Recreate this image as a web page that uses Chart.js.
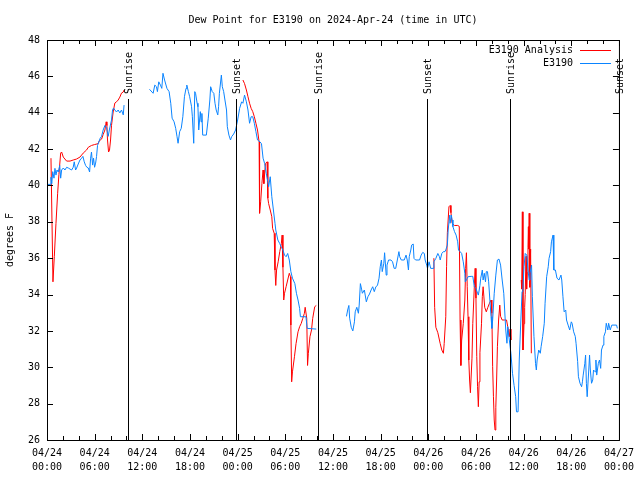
<!DOCTYPE html>
<html>
<head>
<meta charset="utf-8">
<script src="https://cdn.jsdelivr.net/npm/chart.js@4"></script>
<style>
  html, body { margin: 0; padding: 0; background: #fff; }
  canvas { display: block; }
</style>
</head>
<body>
<canvas id="dewChart" width="640" height="480"></canvas>
<script>
// hours since 04/24 00:00 UTC
const analysisHours = [
    0.5, 0.75, 0.92, 1.13, 1.34, 1.5, 1.72, 1.84, 2.05, 2.47, 2.9, 3.3, 3.7, 4.15, 4.56, 4.98,
    5.2, 5.6, 6.0, 6.45, 6.57, 6.87, 7.07, 7.29, 7.45, 7.54, 7.62, 7.75, 7.87, 8.0, 8.12, 8.33,
    8.54, 8.75, 8.96, 9.17, 9.38, 9.6, 9.7,
    11,
    24.66, 24.87, 25.1, 25.3, 25.5, 25.7, 25.9, 26.1, 26.3, 26.5, 26.7, 26.76, 26.9, 27.05, 27.2,
    27.3, 27.5, 27.7, 27.8, 27.9, 28.1, 28.3, 28.4, 28.6, 28.7, 28.8, 28.9, 29.1, 29.3, 29.5,
    29.6, 29.7, 29.8, 29.9, 30.1, 30.3, 30.5, 30.65, 30.7, 30.8, 30.9, 31.15, 31.35, 31.6, 31.8,
    32.0, 32.2, 32.4, 32.5, 32.7, 32.8, 32.9, 33.1, 33.3, 33.45, 33.7, 33.9,
    40,
    48.7, 48.8, 48.95, 49.2, 49.5, 49.7, 49.9, 50.0, 50.2, 50.3, 50.4, 50.6, 50.75, 50.85, 51.0,
    51.3, 51.7, 51.9, 52.0, 52.1, 52.2, 52.4, 52.6, 52.7, 52.8, 52.9, 53.0, 53.1, 53.2, 53.3,
    53.5, 53.6, 53.8, 53.9, 54.0, 54.1, 54.2, 54.3, 54.4, 54.5, 54.7, 54.8, 54.9, 55.1, 55.3,
    55.5, 55.7, 55.9, 56.0, 56.1, 56.2, 56.3, 56.4, 56.5, 56.6, 56.7, 56.85, 57.0, 57.1, 57.3,
    57.6, 57.85, 58.0, 58.2, 58.3, 58.4,
    59,
    59.7, 59.76, 59.84, 59.92, 59.98, 60.05, 60.13, 60.2, 60.3, 60.38, 60.46, 60.55, 60.6, 60.65,
    60.7, 60.76, 60.8, 60.88, 60.97
];
const analysisValues = [
    41.5, 34.7, 36.08, 37.92, 39.57, 40.6, 41.78, 41.84, 41.56, 41.34, 41.34, 41.4, 41.45, 41.56, 41.78, 41.95,
    42.1, 42.2, 42.25, 42.3, 42.45, 42.55, 42.8, 43.05, 43.5, 43.3, 42.5, 41.84, 41.95, 42.5, 43.3, 44.04,
    44.53, 44.6, 44.7, 44.86, 45.08, 45.14, 45.25,
    null,
    45.8, 45.6, 45.25, 44.88, 44.52, 44.24, 44.06, 43.78, 43.42, 43.05, 42.4, 38.47, 39.1, 40.1, 40.85,
    40.1, 41.2, 41.3, 39.3, 39.0, 38.65, 38.28, 37.64, 37.37, 35.35, 34.5, 35.35, 35.8, 36.36, 36.8,
    37.27, 35.5, 33.7, 34.07, 34.43, 34.8, 35.17, 34.98, 32.32, 29.2, 29.75, 30.58, 31.3, 31.95, 32.23,
    32.41, 32.69, 32.97, 33.3, 32.69, 30.1, 30.77, 31.68, 32.05, 32.69, 33.33, 33.4,
    null,
    36.0, 33.3, 32.2, 31.9, 31.3, 30.95, 30.77, 31.3, 32.78, 35.53, 37.4, 38.83, 38.9, 38.5, 37.92,
    37.8, 37.8, 37.75, 32.6, 30.1, 31.5, 32.4, 33.7, 35.44, 36.3, 34.43, 32.78, 30.4, 29.3, 28.6,
    30.5, 32.4, 34.5, 35.44, 33.8, 30.6, 28.93, 27.83, 29.2, 30.8, 32.42, 33.88, 34.43, 33.3, 33.05,
    33.3, 33.52, 33.7, 32.97, 30.03, 28.38, 27.1, 26.55, 27.8, 29.3, 31.13, 32.6, 33.42, 32.8, 32.6,
    32.6, 32.6, 32.23, 31.68, 32.1, 31.5,
    null,
    34.8, 34.3, 38.55, 30.95, 31.5, 32.4, 33.3, 34.0, 36.1, 34.3, 35.2, 36.6, 37.73, 36.5,
    38.47, 36.6, 34.4, 36.5, 30.77
];

const stationHours = [
    0.0, 0.4, 0.5, 0.6, 0.72, 0.88, 1.0, 1.13, 1.26, 1.42, 1.6, 1.72, 1.84, 2.05, 2.26, 2.47,
    2.68, 2.9, 3.1, 3.3, 3.43, 3.6, 3.73, 3.93, 4.15, 4.36, 4.52, 4.69, 4.86, 5.02, 5.2, 5.36,
    5.49, 5.6, 5.74, 5.86, 5.99, 6.12, 6.24, 6.36, 6.53, 6.7, 6.87, 7.07, 7.29, 7.5, 7.7, 7.87,
    8.12, 8.25, 8.38, 8.54, 8.75, 8.96, 9.17, 9.38, 9.6, 9.7,
    11,
    12.9, 13.36, 13.57, 13.78, 13.9, 14.07, 14.28, 14.45, 14.6, 14.8, 15.1, 15.37, 15.58, 15.75,
    16.0, 16.2, 16.37, 16.5, 16.7, 16.9, 17.1, 17.3, 17.5, 17.6, 17.8, 17.96, 18.2, 18.3, 18.47,
    18.6, 18.7, 18.9, 19.0, 19.1, 19.3, 19.4, 19.5, 19.6, 20.06, 20.3, 20.5, 20.6, 20.8, 21.0,
    21.15, 21.3, 21.5, 21.6, 21.7, 21.95, 22.07, 22.24, 22.4, 22.6, 22.7, 22.9, 23.1, 23.24,
    23.5, 23.74, 24.0, 24.25, 24.5, 24.66, 24.87, 25.1, 25.3, 25.5, 25.7, 25.9, 26.1, 26.3, 26.5,
    26.8, 27.0, 27.2, 27.4, 27.6, 27.8, 27.9, 28.1, 28.3, 28.5, 28.7, 28.8, 29.06, 29.3, 29.5,
    29.7, 29.9, 30.1, 30.3, 30.5, 30.7, 30.9, 31.2, 31.4, 31.6, 31.8, 31.9, 32.6, 32.75, 33.9,
    35,
    37.7, 37.85, 38.0, 38.1, 38.3, 38.5, 38.7, 38.8, 39.0, 39.2, 39.3, 39.45, 39.6, 39.7, 39.95,
    40.2, 40.4, 40.6, 40.8, 41.0, 41.2, 41.4, 41.6, 41.8, 41.95, 42.1, 42.2, 42.4, 42.5, 42.7,
    42.8, 43.0, 43.3, 43.5, 43.7, 43.9, 44.1, 44.3, 44.4, 44.6, 44.97, 45.2, 45.35, 45.5, 45.6,
    45.8, 45.9, 46.1, 46.2, 46.4, 46.9, 47.1, 47.3, 47.5, 47.6, 47.8, 47.9, 48.1, 48.3, 48.6,
    48.7, 48.95, 49.2, 49.4, 49.5, 49.7, 49.9, 50.1, 50.2, 50.4, 50.5, 50.7, 50.75, 50.9, 51.0,
    51.1, 51.3, 51.5, 51.7, 51.8, 52.0, 52.2, 52.4, 52.6, 52.65, 52.8, 53.0, 53.4, 53.6, 53.8,
    54.0, 54.2, 54.3, 54.5, 54.6, 54.8, 54.9, 55.05, 55.2, 55.3, 55.45, 55.6, 55.75, 55.9, 56.0,
    56.1, 56.3, 56.5, 56.7, 56.9, 57.1, 57.3, 57.5, 57.75, 57.9, 58.0, 58.2, 58.4, 58.6, 58.8,
    59.0, 59.1, 59.3, 59.45, 59.6, 59.8, 59.9, 60.05, 60.2, 60.4, 60.55, 60.7, 60.8, 61.0, 61.1,
    61.3, 61.5, 61.6, 61.7, 61.9, 62.1, 62.2, 62.4, 62.6, 62.7, 62.9, 63.1, 63.2, 63.4, 63.5,
    63.7, 63.8, 64.0, 64.2, 64.45, 64.7, 64.8, 64.95, 65.1, 65.3, 65.4, 65.6, 65.8, 66.0, 66.1,
    66.3, 66.5, 66.6, 66.8, 66.9, 67.1, 67.3, 67.4, 67.5, 67.7, 67.8, 67.9, 68.0, 68.2, 68.3,
    68.4, 68.55, 68.7, 68.8, 69.0, 69.1, 69.2, 69.4, 69.55, 69.7, 69.8, 70.0, 70.1, 70.3, 70.4,
    70.6, 70.7, 70.9, 71.1, 71.7, 71.8
];
const stationValues = [
    40.06, 40.06, 40.45, 40.1, 40.76, 40.4, 40.94, 40.57, 40.85, 40.74, 41.1, 40.4, 40.85, 40.96, 40.85, 41.0,
    40.96, 40.9, 40.85, 41.0, 41.3, 40.85, 40.96, 41.18, 41.4, 41.5, 41.6, 41.3, 41.1, 41.0, 40.96, 40.74,
    41.5, 41.84, 41.12, 41.5, 41.0, 41.23, 41.6, 42.2, 42.4, 42.6, 42.7, 43.05, 43.3, 43.2, 42.7, 43.1,
    43.6, 44.15, 44.26, 44.15, 44.04, 44.15, 43.99, 44.15, 43.88, 44.42,
    null,
    45.29, 45.07, 45.52, 45.43, 45.16, 45.7, 45.52, 45.34, 46.17, 45.8, 45.34, 45.16, 44.52, 43.7,
    43.5, 43.14, 42.68, 42.32, 42.96, 43.14, 43.78, 44.88, 45.34, 45.52, 45.16, 44.88, 44.33, 43.78, 42.32,
    45.16, 45.07, 44.52, 44.33, 43.05, 44.06, 43.5, 43.96, 42.77, 42.77, 43.7, 44.7, 45.43, 45.16, 45.07,
    44.52, 44.15, 43.88, 44.33, 45.07, 46.07, 45.43, 45.16, 44.7, 44.15, 43.23, 42.77, 42.5, 42.68,
    42.83, 43.05, 43.6, 44.24, 44.6, 44.52, 44.97, 44.6, 44.15, 43.42, 43.78, 43.78, 43.42, 42.96, 42.5,
    42.4, 42.3, 41.5, 41.2, 40.67, 40.2, 39.93, 40.48, 39.38, 38.65, 37.92, 37.55, 37.0, 36.8, 36.6,
    36.45, 36.17, 36.08, 36.26, 35.9, 35.26, 34.9, 34.6, 34.07, 33.7, 33.24, 32.78, 32.78, 32.14, 32.1,
    null,
    32.8, 33.15, 33.4, 32.7, 32.2, 32.0, 32.5, 33.05, 33.3, 32.97, 33.42, 34.6, 34.3, 34.07, 34.25,
    33.6, 33.88, 34.03, 34.25, 34.43, 34.16, 34.43, 34.5, 34.9, 35.53, 35.9, 35.26, 35.72, 36.3, 35.07,
    35.62, 35.9, 35.9, 35.8, 35.44, 35.44, 35.9, 36.36, 36.08, 35.9, 35.9, 36.17, 35.9, 35.35, 36.08,
    36.45, 36.72, 36.78, 35.99, 35.9, 35.9, 36.17, 36.32, 36.26, 35.9, 35.62, 35.44, 35.8, 35.44, 35.44,
    35.8, 35.99, 36.26, 36.08, 35.9, 36.26, 36.36, 36.36, 36.45, 36.72, 37.55, 38.37, 37.92, 38.37, 38.1,
    37.73, 37.46, 37.27, 36.9, 36.45, 36.36, 36.26, 35.8, 35.17, 34.7, 34.8, 34.98, 35.0, 35.0, 34.43,
    34.34, 34.07, 33.97, 34.5, 34.9, 35.35, 34.8, 35.17, 34.7, 35.26, 35.26, 34.7, 33.7, 32.78, 32.14,
    32.6, 34.07, 35.07, 35.9, 35.95, 35.62, 34.8, 34.07, 32.05, 31.32, 32.23, 31.5, 30.77, 29.67, 29.0,
    28.38, 27.55, 27.55, 30.4, 32.05, 34.16, 34.25, 35.53, 36.26, 36.17, 35.35, 34.8, 35.17, 35.62, 33.88,
    31.7, 30.2, 29.85, 30.4, 30.95, 30.77, 31.13, 31.7, 32.42, 33.52, 34.98, 35.53, 35.99, 36.36, 36.9,
    37.27, 35.35, 35.35, 34.9, 34.8, 35.07, 34.8, 33.88, 33.05, 33.15, 32.6, 32.32, 32.05, 32.5, 32.42,
    31.95, 31.7, 31.32, 30.31, 29.48, 29.12, 28.93, 29.2, 29.57, 30.2, 30.67, 29.12, 28.38, 29.85, 30.67,
    29.85, 29.12, 29.3, 29.85, 29.75, 30.4, 29.57, 30.2, 30.4, 29.94, 30.95, 31.22, 31.7, 31.95, 32.42,
    32.05, 32.42, 32.05, 32.32, 32.32, 32.14
];

const xTickDates = ['04/24', '04/24', '04/24', '04/24', '04/25', '04/25', '04/25', '04/25',
                    '04/26', '04/26', '04/26', '04/26', '04/27'];
const xTickTimes = ['00:00', '06:00', '12:00', '18:00', '00:00', '06:00', '12:00', '18:00',
                    '00:00', '06:00', '12:00', '18:00', '00:00'];

const sunHours = [10.18, 23.74, 34.17, 47.86, 58.3, 71.98];
const sunLabels = ['Sunrise', 'Sunset', 'Sunrise', 'Sunset', 'Sunrise', 'Sunset'];

const MONO = '10px "DejaVu Sans Mono", "Liberation Mono", monospace';
const RED = '#ff0000';
const BLUE = '#0a84ff';

function toPoints(hours, values) {
    return hours.map((h, i) => ({ x: h, y: values[i] }));
}

// frame, inward ticks, sunrise/sunset markers, title, legend
const gnuplotLook = {
    id: 'gnuplotLook',
    afterDatasetsDraw(chart) {
        const ctx = chart.ctx;
        const area = chart.chartArea;
        const xs = chart.scales.x;
        const ys = chart.scales.y;
        ctx.save();
        ctx.strokeStyle = '#000';
        ctx.lineWidth = 1;

        // sun lines
        ctx.font = MONO;
        ctx.fillStyle = '#000';
        sunHours.forEach((h, i) => {
            const px = Math.round(xs.getPixelForValue(h)) + 0.5;
            ctx.beginPath();
            ctx.moveTo(px, 99);
            ctx.lineTo(px, area.bottom);
            ctx.stroke();
            ctx.save();
            ctx.translate(px + 1, 94);
            ctx.rotate(-Math.PI / 2);
            ctx.textAlign = 'left';
            ctx.textBaseline = 'middle';
            ctx.fillText(sunLabels[i], 0, 0);
            ctx.restore();
        });

        // frame
        ctx.strokeRect(area.left + 0.5, area.top + 0.5, area.right - area.left, area.bottom - area.top);

        // ticks
        ctx.beginPath();
        for (let h = 0; h <= 72; h += 2) {
            const px = Math.round(xs.getPixelForValue(h)) + 0.5;
            const len = h % 6 === 0 ? 6 : 4;
            ctx.moveTo(px, area.bottom);
            ctx.lineTo(px, area.bottom - len);
            ctx.moveTo(px, area.top);
            ctx.lineTo(px, area.top + len);
        }
        for (let v = 26; v <= 48; v += 2) {
            const py = Math.round(ys.getPixelForValue(v)) + 0.5;
            ctx.moveTo(area.left, py);
            ctx.lineTo(area.left + 6, py);
            ctx.moveTo(area.right, py);
            ctx.lineTo(area.right - 6, py);
        }
        ctx.stroke();

        // title
        ctx.textAlign = 'center';
        ctx.textBaseline = 'middle';
        ctx.fillText('Dew Point for E3190 on 2024-Apr-24 (time in UTC)', (area.left + area.right) / 2, 20);

        // y label
        ctx.save();
        ctx.translate(10, (area.top + area.bottom) / 2);
        ctx.rotate(-Math.PI / 2);
        ctx.fillText('degrees F', 0, 0);
        ctx.restore();

        // legend
        const legend = [['E3190 Analysis', RED, 50], ['E3190', BLUE, 63]];
        ctx.textAlign = 'right';
        legend.forEach(([label, color, y]) => {
            ctx.fillStyle = '#000';
            ctx.fillText(label, 573, y);
            ctx.strokeStyle = color;
            ctx.beginPath();
            ctx.moveTo(580, y + 0.5);
            ctx.lineTo(611, y + 0.5);
            ctx.stroke();
        });
        ctx.restore();
    }
};

const ctx = document.getElementById('dewChart').getContext('2d');
const dewChart = new Chart(ctx, {
    type: 'line',
    data: {
        datasets: [
            {
                label: 'E3190 Analysis',
                data: toPoints(analysisHours, analysisValues),
                borderColor: RED,
                borderWidth: 1,
                pointRadius: 0,
                fill: false,
                tension: 0,
                spanGaps: false,
                order: 1
            },
            {
                label: 'E3190',
                data: toPoints(stationHours, stationValues),
                borderColor: BLUE,
                borderWidth: 1,
                pointRadius: 0,
                fill: false,
                tension: 0,
                spanGaps: false,
                order: 0
            }
        ]
    },
    options: {
        responsive: false,
        animation: false,
        devicePixelRatio: 1,
        layout: { padding: { top: 40, right: 20, left: 0, bottom: 0 } },
        plugins: {
            legend: { display: false },
            title: { display: false },
            tooltip: { enabled: false }
        },
        scales: {
            x: {
                type: 'linear',
                min: 0,
                max: 72,
                afterFit(scale) { scale.height = 40; },
                grid: { display: false, drawTicks: false },
                border: { display: false },
                ticks: {
                    stepSize: 6,
                    autoSkip: false,
                    maxRotation: 0,
                    padding: 6,
                    color: '#000',
                    font: { family: '"DejaVu Sans Mono"', size: 10, lineHeight: 1.4 },
                    callback: (value) => {
                        const i = Math.round(value / 6);
                        return [xTickDates[i], xTickTimes[i]];
                    }
                }
            },
            y: {
                min: 26,
                max: 48,
                afterFit(scale) { scale.width = 47; },
                grid: { display: false, drawTicks: false },
                border: { display: false },
                ticks: {
                    stepSize: 2,
                    padding: 7,
                    color: '#000',
                    font: { family: '"DejaVu Sans Mono"', size: 10 }
                }
            }
        }
    },
    plugins: [gnuplotLook]
});
</script>
</body>
</html>
